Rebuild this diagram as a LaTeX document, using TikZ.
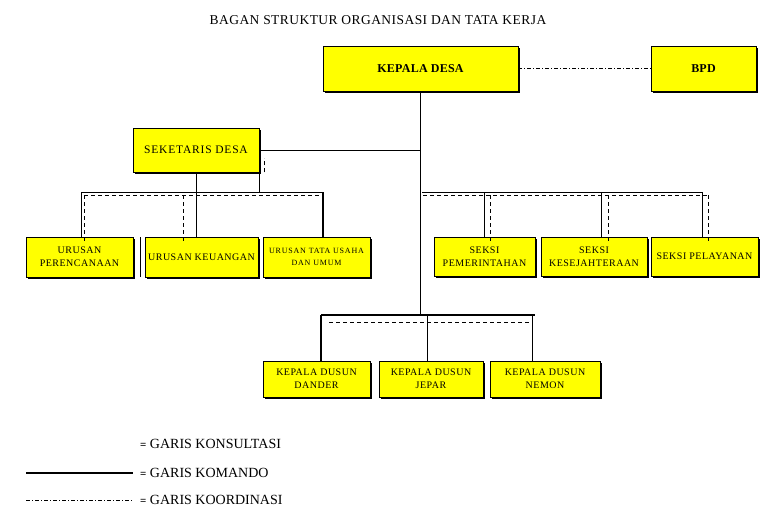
\documentclass[tikz,border=0pt]{standalone}
\usepackage{fontspec}
\setmainfont{Liberation Serif}
\usetikzlibrary{shadows}
\definecolor{boxyellow}{HTML}{FFFF00}
\newcommand{\ls}[1]{\addfontfeature{LetterSpace=#1}}
\begin{document}
\begin{tikzpicture}[x=1pt,y=-1pt,
  box/.style={draw,fill=boxyellow,line width=0.7pt,align=center,inner sep=1pt,
    drop shadow={shadow xshift=1.6pt,shadow yshift=-1.6pt,fill=black,opacity=1}},
  cmd/.style={line width=0.8pt},
  cmdthick/.style={line width=1.6pt},
  kons/.style={line width=0.8pt,dash pattern=on 4pt off 3pt},
  koord/.style={line width=0.7pt,dash pattern=on 4pt off 2pt on 1pt off 2pt},
  fbig/.style={font=\fontsize{12}{14}\selectfont\bfseries\ls{2}},
  fsek/.style={font=\fontsize{11.5}{13}\selectfont\ls{7}},
  fsm/.style={font=\fontsize{10}{13}\selectfont\ls{5}},
  ftiny/.style={font=\fontsize{8}{12}\selectfont\ls{10}},
  flg/.style={anchor=west,inner sep=0pt,font=\fontsize{14}{16}\selectfont}]
\useasboundingbox (0,0) rectangle (782,516);
\node[font=\fontsize{13.5}{15}\selectfont\ls{3.3}] (title) at (378,20) {BAGAN STRUKTUR ORGANISASI DAN TATA KERJA};
% nodes
\node[box,fbig,minimum width=195pt,minimum height=45pt] (kd) at (420.5,68.5) {KEPALA DESA};
\node[box,fbig,minimum width=105pt,minimum height=45pt] (bpd) at (703.5,68.5) {BPD};
\node[box,fsek,minimum width=126pt,minimum height=44pt] (sek) at (196,150) {SEKETARIS DESA};
\node[box,fsm,minimum width=107pt,minimum height=40pt] (u1) at (79.5,257) {URUSAN\\PERENCANAAN};
\node[box,fsm,minimum width=113pt,minimum height=40pt] (u2) at (201.5,257) {URUSAN KEUANGAN};
\node[box,ftiny,minimum width=107pt,minimum height=40pt] (u3) at (316.5,257) {URUSAN TATA USAHA\\DAN UMUM};
\node[box,fsm,minimum width=101pt,minimum height=39pt] (s1) at (484.5,256.5) {SEKSI\\PEMERINTAHAN};
\node[box,fsm,minimum width=106pt,minimum height=39pt] (s2) at (594,256.5) {SEKSI\\KESEJAHTERAAN};
\node[box,fsm,minimum width=107pt,minimum height=39pt] (s3) at (704.5,256.5) {SEKSI PELAYANAN};
\node[box,fsm,minimum width=107pt,minimum height=36pt] (d1) at (316.5,379) {KEPALA DUSUN\\DANDER};
\node[box,fsm,minimum width=104pt,minimum height=36pt] (d2) at (431,379) {KEPALA DUSUN\\JEPAR};
\node[box,fsm,minimum width=110pt,minimum height=36pt] (d3) at (545,379) {KEPALA DUSUN\\NEMON};
% bus coordinates
\coordinate (lbusL) at (81,192);
\coordinate (lbusR) at (323,192);
\coordinate (lkonL) at (84,195);
\coordinate (lkonR) at (322,195);
\coordinate (rbusL) at (422,192);
\coordinate (rbusR) at (702,192);
\coordinate (rkonL) at (423,195);
\coordinate (rkonR) at (708,195);
\coordinate (bbus) at (422,315);
\coordinate (bbusL) at (321,315);
\coordinate (bbusR) at (535,315);
\coordinate (bkonL) at (329,322);
\coordinate (bkonR) at (533,322);
% koordinasi
\draw[koord] (kd.east) -- (bpd.west);
% komando main
\draw[cmd] (kd.south) -- (kd.south |- bbus);
\draw[cmd] (sek.east) -- (sek.east -| kd.south);
% left group
\draw[cmd] (sek.south) -- (sek.south |- lbusL);
\draw[cmd] (sek.south east) -- (sek.south east |- lbusL);
\draw[kons] ([xshift=5pt]sek.south east) -- ([xshift=5pt,yshift=14pt]sek.south east);
\draw[cmd] (lbusL) -- (lbusR);
\draw[kons] (lkonL) -- (lkonR);
\draw[cmd] (lbusL) -- (lbusL |- u1.north);
\draw[cmd] (sek.south |- lbusL) -- (sek.south |- u2.north);
\draw[cmdthick] (lbusR) -- (lbusR |- u3.north);
\draw[kons] (lkonL) -- ([yshift=-6pt]lkonL |- u1.north);
\coordinate (lk2) at (183,195);
\draw[kons] (lk2) -- ([yshift=-6pt]lk2 |- u2.north);
\coordinate (stray) at (140,237);
\draw[line width=0.6pt] (stray) -- (stray |- u2.south);
% right group
\draw[cmd] (rbusL) -- (rbusR);
\draw[kons] (rkonL) -- (rkonR);
\coordinate (r1) at (484,192);
\coordinate (r2) at (601,192);
\draw[cmd] (r1) -- (r1 |- s1.north);
\draw[cmd] (r2) -- (r2 |- s2.north);
\draw[cmd] (rbusR) -- (rbusR |- s3.north);
\coordinate (rk1) at (490,195);
\coordinate (rk2) at (608,195);
\draw[kons] (rk1) -- ([yshift=-6pt]rk1 |- s1.north);
\draw[kons] (rk2) -- ([yshift=-6pt]rk2 |- s2.north);
\draw[kons] (rkonR) -- ([yshift=-6pt]rkonR |- s3.north);
% bottom group
\draw[cmdthick] (bbusL) -- (bbusR);
\draw[kons] (bkonL) -- (bkonR);
\draw[cmdthick] (bbusL) -- (bbusL |- d1.north);
\coordinate (b2) at (427,315);
\coordinate (b3) at (532,315);
\draw[cmd] (b2) -- (b2 |- d2.north);
\draw[cmd] (b3) -- (b3 |- d3.north);
% legend
\coordinate (lg1a) at (26,473);
\coordinate (lg1b) at (133,473);
\coordinate (lg2a) at (26,500);
\coordinate (lg2b) at (133,500);
\draw[line width=2pt] (lg1a) -- (lg1b);
\draw[koord] (lg2a) -- (lg2b);
\node[flg] (l1) at (140,444) {{\fontsize{11}{12}\selectfont\bfseries =} GARIS KONSULTASI};
\node[flg] (l2) at (140,473) {{\fontsize{11}{12}\selectfont\bfseries =} GARIS KOMANDO};
\node[flg] (l3) at (140,500) {{\fontsize{11}{12}\selectfont\bfseries =} GARIS KOORDINASI};
\end{tikzpicture}
\end{document}
